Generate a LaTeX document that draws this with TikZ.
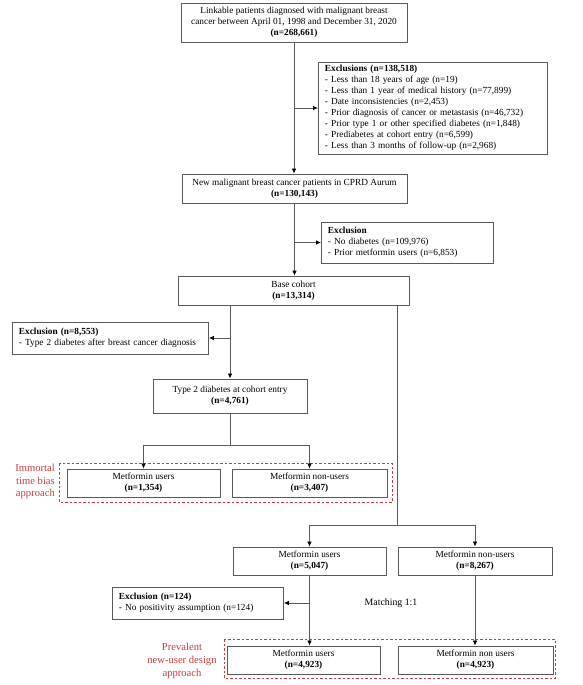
\documentclass[tikz,border=0pt]{standalone}
\usepackage{fontspec}
\setmainfont{Liberation Serif}
\usetikzlibrary{arrows.meta}
\definecolor{linegray}{RGB}{90,90,90}
\definecolor{redtxt}{RGB}{205,60,60}
\begin{document}
\begin{tikzpicture}[x=1pt,y=-1pt,
  every node/.style={font=\fontsize{9.3}{11}\selectfont, inner sep=0pt},
  box/.style={draw=linegray, line width=0.9pt, align=center, minimum height=#1},
  box/.default=28,
  ebox/.style={draw=linegray, line width=0.9pt, align=left, inner xsep=6.5pt, anchor=west},
  conn/.style={draw=linegray, line width=0.8pt},
  arr/.style={conn, -{Latex[length=5pt,width=4.5pt,color=black]}},
  redbox/.style={draw=redtxt, line width=0.9pt, dash pattern=on 2.5pt off 2pt},
  redlbl/.style={text=redtxt, align=center, font=\fontsize{10.6}{12.7}\selectfont}]
\useasboundingbox (0,0) rectangle (583,685);

\node[box=39, minimum width=226] (b1) at (294,22.5) {Linkable patients diagnosed with malignant breast\\cancer between April 01, 1998 and December 31, 2020\\\textbf{(n=268,661)}};
\node[ebox, minimum width=229, minimum height=92, text width=216] (e1) at (318,108) {\textbf{Exclusions (n=138,518)}\\- Less than 18 years of age (n=19)\\- Less than 1 year of medical history (n=77,899)\\- Date inconsistencies (n=2,453)\\- Prior diagnosis of cancer or metastasis (n=46,732)\\- Prior type 1 or other specified diabetes (n=1,848)\\- Prediabetes at cohort entry (n=6,599)\\- Less than 3 months of follow-up (n=2,968)};
\node[box=29, minimum width=225] (b2) at (294.5,188.5) {New malignant breast cancer patients in CPRD Aurum\\\textbf{(n=130,143)}};
\node[ebox, minimum width=172, minimum height=41, text width=159] (e2) at (321,242.5) {\textbf{Exclusion}\\- No diabetes (n=109,976)\\- Prior metformin users (n=6,853)};
\node[box=29, minimum width=231] (base) at (293.5,290.5) {Base cohort\\\textbf{(n=13,314)}};
\node[ebox, minimum width=196, minimum height=32, text width=183] (e3) at (12,338) {\textbf{Exclusion (n=8,553)}\\- Type 2 diabetes after breast cancer diagnosis};
\node[box=34, minimum width=154] (t2) at (230,396) {Type 2 diabetes at cohort entry\\\textbf{(n=4,761)}};

\draw[redbox] (59,463) rectangle (392,502);
\node[box, minimum width=153] (mu1) at (143.5,483) {Metformin users\\\textbf{(n=1,354)}};
\node[box, minimum width=155] (mn1) at (309.5,483) {Metformin non-users\\\textbf{(n=3,407)}};
\node[redlbl, align=right, anchor=east] (lbl1) at (55,481.5) {Immortal\\time bias\\approach};

\node[box, minimum width=153] (mu2) at (309.5,561) {Metformin users\\\textbf{(n=5,047)}};
\node[box, minimum width=154] (mn2) at (475,561) {Metformin non-users\\\textbf{(n=8,267)}};
\node[ebox, minimum width=171, minimum height=32, text width=158] (e4) at (112,603) {\textbf{Exclusion (n=124)}\\- No positivity assumption (n=124)};
\node[font=\fontsize{9.8}{11}\selectfont] (match) at (391,603) {Matching 1:1};

\draw[redbox] (224,639) rectangle (555,678);
\node[box, minimum width=153] (mu3) at (303.5,660) {Metformin users\\\textbf{(n=4,923)}};
\node[box, minimum width=155] (mn3) at (475.5,660) {Metformin non users\\\textbf{(n=4,923)}};
\node[redlbl] (lbl2) at (182,661) {Prevalent\\new-user design\\approach};

% connectors
\draw[arr] (b1.south) -- (b1.south |- b2.north);
\draw[arr] (b1.south |- e1.west) -- (e1.west);
\draw[arr] (b2.south) -- (b2.south |- base.north);
\draw[arr] (b2.south |- e2.west) -- (e2.west);

\coordinate (bl) at (230,305);
\coordinate (br) at (397,305);
\draw[arr] (bl) -- (bl |- t2.north);
\draw[arr] (bl |- e3.east) -- (e3.east);

\coordinate (j1) at (230,445);
\draw[conn] (t2.south) -- (j1);
\draw[arr] (j1) -| (mu1.north);
\draw[arr] (j1) -| (mn1.north);

\coordinate (j2) at (397,525);
\draw[conn] (br) -- (j2);
\draw[arr] (j2) -| (mu2.north);
\draw[arr] (j2) -| (mn2.north);

\coordinate (m3top) at (mu2.south |- mu3.north);
\draw[arr] (mu2.south) -- (m3top);
\draw[arr] (mu2.south |- e4.east) -- (e4.east);
\draw[arr] (mn2.south) -- (mn2.south |- mn3.north);
\end{tikzpicture}
\end{document}
